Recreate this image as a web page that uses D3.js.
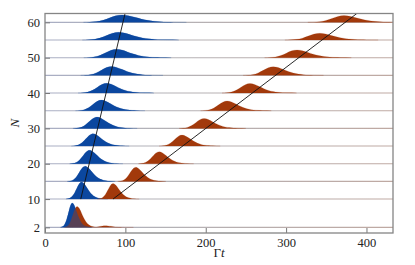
<!DOCTYPE html>
<html>
<head>
<meta charset="utf-8">
<script src="https://cdn.jsdelivr.net/npm/d3@7"></script>
<style>
  html, body { margin: 0; padding: 0; background: #fff; }
  svg { display: block; }
  text { font-family: 'Liberation Serif', serif; fill: #222; }
</style>
</head>
<body>
<div id="chart"></div>
<script>
// rows of the ridgeline (N)
const rows = [2, 10, 15, 20, 25, 30, 35, 40, 45, 50, 55, 60];

// blue peak: position (Γt), peak height (in N units), spread (Γt)
const blueCenter = [34, 45.5, 50, 55.4, 59.8, 64.7, 70.3, 76.6, 82.8, 89, 91.5, 95.9];
const blueHeight = [6.9, 4.8, 4.3, 3.8, 3.5, 3.2, 3.0, 2.75, 2.5, 2.4, 2.2, 2.1];
const blueWidth = [5, 6.5, 7.5, 8.3, 9, 10, 10.8, 11.8, 12.8, 13.6, 15, 16];

// red peak
const redCenter = [40, 84.7, 113, 142, 170.5, 198, 226.6, 255, 284, 313.7, 342, 372];
const redHeight = [5.9, 4.4, 4.0, 3.4, 3.1, 2.8, 2.75, 2.7, 2.45, 2.2, 1.9, 1.9];
const redWidth = [5.5, 6.5, 7.5, 8.6, 9.5, 10.4, 11, 11.6, 12.5, 13.5, 14.5, 15];

// shape of a single peak, offsets in units of spread
const profileOffset = [-3, -2.5, -2, -1.5, -1, -0.5, 0, 0.5, 1, 1.5, 2, 2.5, 3, 3.5, 4, 5];
const profileShape = [0, 0.03, 0.1, 0.28, 0.58, 0.88, 1, 0.9, 0.68, 0.45, 0.27, 0.15, 0.08, 0.04, 0.02, 0];

// small secondary red bump on the N = 2 row
const bumpRow = [2];
const bumpCenter = [75];
const bumpHeight = [0.45];
const bumpWidth = [7];

// guide lines through the peaks
const blueLineN = [10, 62.5];
const blueLineT = [44.5, 99.6];
const redLineN = [10, 62.5];
const redLineT = [84.6, 388];

const xTicks = [0, 100, 200, 300, 400];
const yTicks = [2, 10, 20, 30, 40, 50, 60];

const width = 415;
const height = 265;
const margin = { top: 13.5, right: 22, bottom: 32, left: 45 };

const x = d3.scaleLinear().domain([0, 433]).range([margin.left, width - margin.right]);
const y = d3.scaleLinear().domain([0.4, 62.5]).range([height - margin.bottom, margin.top]);

const blue = '#0b479f';
const red = '#a2390b';

const svg = d3
  .select('#chart')
  .append('svg')
  .attr('width', width)
  .attr('height', height)
  .attr('viewBox', `0 0 ${width} ${height}`);

svg
  .append('clipPath')
  .attr('id', 'clip')
  .append('rect')
  .attr('x', margin.left)
  .attr('y', margin.top)
  .attr('width', width - margin.left - margin.right)
  .attr('height', height - margin.top - margin.bottom);

const plot = svg.append('g').attr('clip-path', 'url(#clip)');

// baseline tint: bluish on the left, reddish on the right
const grad = svg
  .append('defs')
  .append('linearGradient')
  .attr('id', 'base')
  .attr('gradientUnits', 'userSpaceOnUse')
  .attr('x1', x(0))
  .attr('x2', x(433));
grad.append('stop').attr('offset', 0).attr('stop-color', '#a9aec4');
grad.append('stop').attr('offset', 0.35).attr('stop-color', '#b4b2b6');
grad.append('stop').attr('offset', 1).attr('stop-color', '#bfa9a2');

const peakPoints = (center, spread, amp) =>
  profileOffset.map((o, k) => [center + o * spread, amp * profileShape[k]]);

const area = n =>
  d3
    .area()
    .curve(d3.curveMonotoneX)
    .x(d => x(d[0]))
    .y0(y(n))
    .y1(d => y(n + d[1]));

// draw from top row down so lower rows sit in front
const order = d3.range(rows.length).reverse();

order.forEach(i => {
  const n = rows[i];
  const g = plot.append('g');

  g.append('line')
    .attr('x1', x(0))
    .attr('x2', x(433))
    .attr('y1', y(n))
    .attr('y2', y(n))
    .attr('stroke', 'url(#base)')
    .attr('stroke-width', 1.1);

  const bluePts = peakPoints(blueCenter[i], blueWidth[i], blueHeight[i]);
  let redPts = peakPoints(redCenter[i], redWidth[i], redHeight[i]);

  const b = bumpRow.indexOf(n);
  if (b >= 0) {
    const last = redPts.pop();
    const extra = peakPoints(bumpCenter[b], bumpWidth[b], bumpHeight[b])
      .filter(p => p[0] > redPts[redPts.length - 1][0]);
    redPts = redPts.concat(extra);
  }

  g.append('path')
    .attr('d', area(n)(bluePts))
    .attr('fill', blue)
    .attr('stroke', blue)
    .attr('stroke-opacity', 0.3)
    .attr('stroke-width', 0.5);

  g.append('path')
    .attr('d', area(n)(redPts))
    .attr('fill', red)
    .attr('stroke', red)
    .attr('stroke-opacity', 0.3)
    .attr('stroke-width', 0.5);

  // blue seen through the red where the two overlap
  g.append('path')
    .attr('d', area(n)(bluePts))
    .attr('fill', blue)
    .attr('fill-opacity', 0.5)
    .attr('stroke', 'none');
});

const line = d3
  .line()
  .x(d => x(d[1]))
  .y(d => y(d[0]));

plot
  .append('path')
  .attr('d', line(d3.zip(blueLineN, blueLineT)))
  .attr('fill', 'none')
  .attr('stroke', '#111')
  .attr('stroke-width', 0.9);

plot
  .append('path')
  .attr('d', line(d3.zip(redLineN, redLineT)))
  .attr('fill', 'none')
  .attr('stroke', '#111')
  .attr('stroke-width', 0.9);

// axes with inward ticks
const xAxis = svg
  .append('g')
  .attr('transform', `translate(0, ${height - margin.bottom})`)
  .call(d3.axisBottom(x).tickValues(xTicks).tickSizeInner(-5).tickSizeOuter(0).tickPadding(5));

const yAxis = svg
  .append('g')
  .attr('transform', `translate(${margin.left}, 0)`)
  .call(d3.axisLeft(y).tickValues(yTicks).tickSizeInner(-5).tickSizeOuter(0).tickPadding(5));

[xAxis, yAxis].forEach(ax =>
  ax
    .call(g => g.select('.domain').remove())
    .call(g => g.selectAll('.tick line').attr('stroke', '#777').attr('stroke-width', 1))
    .call(g =>
      g
        .selectAll('.tick text')
        .style('font-family', "'Liberation Serif', serif")
        .style('font-size', '12.5px')
        .attr('fill', '#222')
    )
);

svg
  .append('rect')
  .attr('x', margin.left)
  .attr('y', margin.top)
  .attr('width', width - margin.left - margin.right)
  .attr('height', height - margin.top - margin.bottom)
  .attr('fill', 'none')
  .attr('stroke', '#858585')
  .attr('stroke-width', 1.3);

const xLabel = svg
  .append('text')
  .attr('x', (margin.left + width - margin.right) / 2)
  .attr('y', 257)
  .attr('text-anchor', 'middle')
  .style('font-size', '13px');
xLabel.append('tspan').text('Γ');
xLabel.append('tspan').style('font-style', 'italic').text('t');

svg
  .append('text')
  .attr('transform', `translate(19, ${(margin.top + height - margin.bottom) / 2}) rotate(-90)`)
  .attr('text-anchor', 'middle')
  .style('font-size', '13px')
  .style('font-style', 'italic')
  .text('N');
</script>
</body>
</html>
